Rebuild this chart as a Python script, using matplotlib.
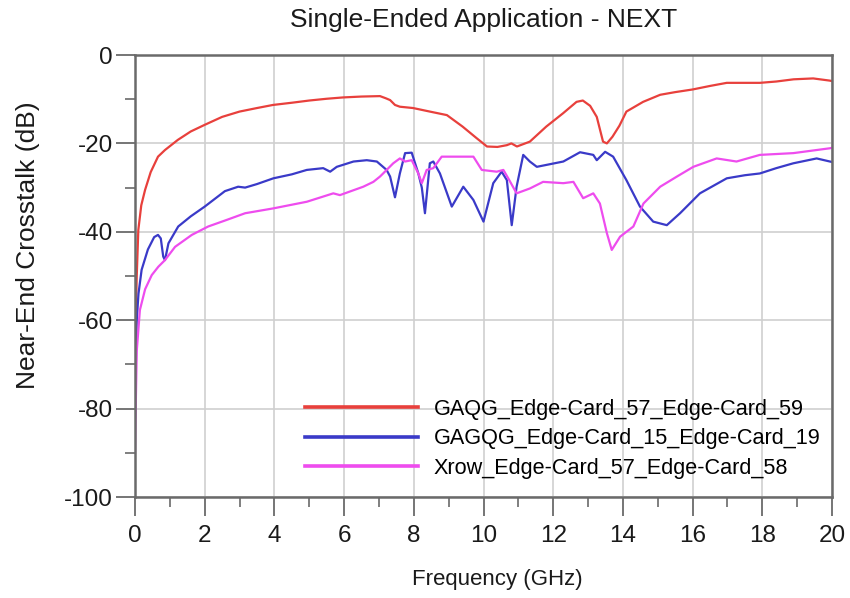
import matplotlib
matplotlib.use("Agg")
import matplotlib.pyplot as plt
from matplotlib import font_manager
from matplotlib.ticker import MultipleLocator

# ---------------- data ----------------
title = "Single-Ended Application - NEXT"
xlabel = "Frequency (GHz)"
ylabel = "Near-End Crosstalk (dB)"
labels = ["GAQG_Edge-Card_57_Edge-Card_59",
          "GAGQG_Edge-Card_15_Edge-Card_19",
          "Xrow_Edge-Card_57_Edge-Card_58"]
colors = ["#e8403c", "#3a3ac8", "#ee4cee"]

red_f = [0.0, 0.02, 0.05, 0.095, 0.18, 0.29, 0.45, 0.66, 0.86, 1.23, 1.6, 2.0, 2.5, 3.0, 3.5,
         3.96, 4.5, 5.0, 5.5, 5.97, 6.5, 7.03, 7.2, 7.32, 7.46, 7.6, 7.98, 8.46, 8.95, 9.4,
         9.8, 10.1, 10.4, 10.67, 10.8, 10.96, 11.33, 11.8, 12.28, 12.67, 12.85, 13.06, 13.25,
         13.43, 13.54, 13.7, 13.9, 14.1, 14.58, 15.07, 15.5, 16.0, 16.5, 16.98, 17.5, 17.93,
         18.4, 18.9, 19.46, 19.94, 20.0]
red_db = [-68, -60, -50, -39.6, -34, -30.5, -26.5, -23, -21.5, -19.2, -17.3, -15.8, -14.0, -12.8, -12.0,
          -11.3, -10.8, -10.3, -9.9, -9.6, -9.4, -9.3, -9.8, -10.2, -11.3, -11.7, -12.0, -12.8, -13.6, -16.2,
          -18.8, -20.7, -20.8, -20.4, -20.0, -20.7, -19.6, -16.2, -13.2, -10.6, -10.3, -11.5, -14.0,
          -19.6, -20.0, -18.5, -16.0, -12.8, -10.6, -9.0, -8.4, -7.8, -7.0, -6.3, -6.3, -6.3,
          -6.0, -5.5, -5.3, -5.8, -5.9]

blue_f = [0.0, 0.02, 0.05, 0.1, 0.19, 0.37, 0.55, 0.66, 0.74, 0.81, 0.86, 0.96, 1.24, 1.6, 2.0,
          2.58, 2.96, 3.16, 3.5, 3.97, 4.5, 4.93, 5.4, 5.6, 5.79, 6.27, 6.65, 6.94, 7.22, 7.32,
          7.46, 7.6, 7.75, 7.94, 8.13, 8.23, 8.32, 8.46, 8.56, 8.75, 9.09, 9.42, 9.71, 10.0,
          10.28, 10.52, 10.67, 10.81, 10.95, 11.14, 11.33, 11.53, 12.29, 12.77, 13.15, 13.25,
          13.49, 13.72, 14.1, 14.49, 14.87, 15.26, 15.64, 16.21, 16.98, 17.5, 17.93, 18.4,
          18.89, 19.56, 19.94, 20.0]
blue_db = [-82, -72, -60, -54, -48.6, -44, -41.2, -40.7, -41.5, -45.6, -46.4, -42.6, -38.8, -36.5, -34.3,
           -30.8, -29.8, -30.0, -29.2, -27.9, -27.0, -26.0, -25.6, -26.4, -25.3, -24.1, -23.8, -24.1, -26.0, -27.5,
           -32.2, -26.8, -22.2, -22.1, -26.8, -30.0, -35.8, -24.5, -24.1, -26.8, -34.3, -29.8, -32.8, -37.7,
           -29.0, -26.4, -28.3, -38.5, -29.8, -22.6, -24.1, -25.3, -24.1, -22.0, -22.6, -23.8,
           -21.9, -23.0, -28.3, -34.3, -37.7, -38.5, -35.8, -31.3, -27.9, -27.2, -26.8, -25.6,
           -24.5, -23.4, -24.1, -24.2]

mag_f = [0.0, 0.02, 0.05, 0.14, 0.29, 0.48, 0.67, 0.86, 1.15, 1.63, 2.1, 2.6, 3.16, 3.97, 4.93,
         5.69, 5.88, 6.55, 6.84, 7.03, 7.12, 7.41, 7.6, 7.75, 7.94, 8.13, 8.23, 8.37, 8.56, 8.8,
         8.94, 9.71, 9.95, 10.38, 10.57, 10.71, 10.95, 11.33, 11.71, 12.29, 12.58, 12.86, 13.15,
         13.34, 13.54, 13.68, 13.92, 14.3, 14.59, 15.07, 15.55, 16.02, 16.69, 17.26, 17.93,
         18.89, 19.94, 20.0]
mag_db = [-90, -80, -67, -57.7, -53, -49.8, -47.9, -46.4, -43.4, -40.7, -38.8, -37.4, -35.8, -34.7, -33.2,
          -31.3, -31.7, -29.8, -28.7, -27.5, -26.8, -24.5, -23.4, -24.1, -23.8, -26.8, -29.0, -26.0, -25.6, -23.0,
          -23.0, -23.0, -26.0, -26.4, -26.0, -27.9, -31.3, -30.2, -28.7, -29.0, -28.7, -32.4, -31.3,
          -33.6, -40.3, -44.1, -41.1, -38.8, -33.6, -29.8, -27.5, -25.3, -23.4, -24.1, -22.6,
          -22.2, -21.1, -21.0]

series = [(red_f, red_db), (blue_f, blue_db), (mag_f, mag_db)]

# ---------------- fonts ----------------
def has_font(name):
    try:
        font_manager.findfont(font_manager.FontProperties(family=name), fallback_to_default=False)
        return True
    except Exception:
        return False

if has_font("Liberation Sans Narrow"):
    fam = ["Liberation Sans Narrow", "Liberation Sans", "DejaVu Sans"]
    s_title, s_tick, s_xlab, s_ylab, s_leg = 23, 20.5, 19.5, 23, 18.5
else:
    fam = ["Liberation Sans", "DejaVu Sans"]
    s_title, s_tick, s_xlab, s_ylab, s_leg = 19, 17.5, 16, 19, 15.6
plt.rcParams["font.family"] = fam
plt.rcParams["axes.unicode_minus"] = False

# ---------------- figure ----------------
W, H = 850, 598
fig = plt.figure(figsize=(W / 100, H / 100), dpi=100)
fig.patch.set_facecolor("white")
ax = fig.add_axes([135 / W, 1 - 497 / H, 697 / W, 442 / H])

for (f, d), c, lab in zip(series, colors, labels):
    ax.plot(f, d, color=c, lw=1.6, label=lab, solid_joinstyle="round")

ax.set_xlim(0, 20)
ax.set_ylim(-100, 0)
ax.xaxis.set_major_locator(MultipleLocator(2))
ax.xaxis.set_minor_locator(MultipleLocator(1))
ax.yaxis.set_major_locator(MultipleLocator(20))
ax.yaxis.set_minor_locator(MultipleLocator(10))
ax.grid(True, which="major", color="#cfcfcf", lw=1.2)
ax.set_axisbelow(True)

for sp in ax.spines.values():
    sp.set_color("#6a6a6a")
    sp.set_linewidth(1.8)

ax.tick_params(which="major", direction="out", length=14, width=1.3, color="#6a6a6a",
               labelsize=s_tick, labelcolor="#1a1a1a")
ax.tick_params(which="minor", direction="out", length=7, width=1.2, color="#6a6a6a")
ax.tick_params(axis="x", which="major", pad=6)
ax.tick_params(axis="y", which="major", pad=2)

fig.text(484 / W, 1 - 20 / H, title, ha="center", va="center", fontsize=s_title, color="#1a1a1a")
fig.text(497 / W, 1 - 580 / H, xlabel, ha="center", va="center", fontsize=s_xlab, color="#1a1a1a")
fig.text(28 / W, 1 - 245 / H, ylabel, ha="center", va="center", rotation=90, fontsize=s_ylab,
         color="#1a1a1a")

leg = ax.legend(loc="lower left", bbox_to_anchor=(0.244, 0.041), frameon=False,
                fontsize=s_leg, handlelength=5.2, handletextpad=0.75, labelspacing=0.4,
                borderpad=0.0, borderaxespad=0.0)
for h in leg.get_lines():
    h.set_linewidth(2.6)

fig.savefig("out.png", dpi=100)
